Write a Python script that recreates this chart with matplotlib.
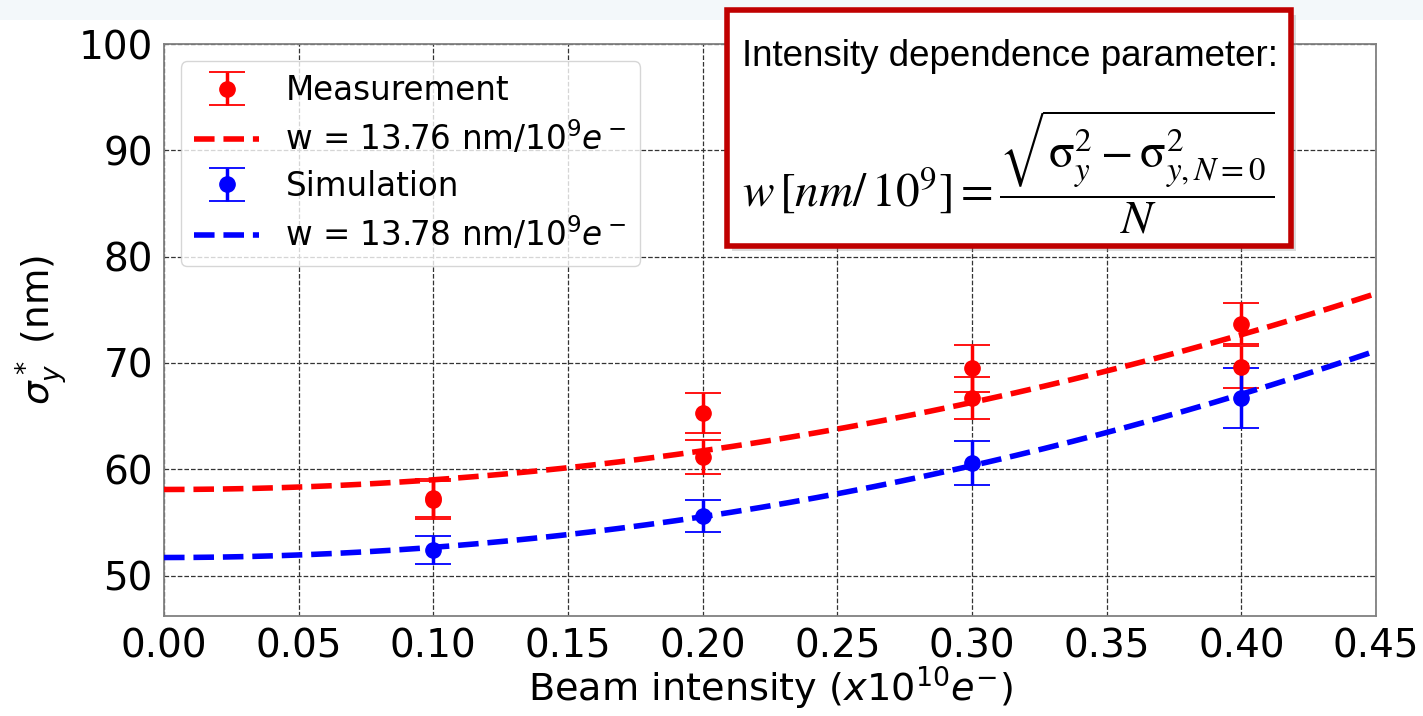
import numpy as np
import matplotlib.pyplot as plt
from matplotlib.patches import Rectangle

# measured beam size at IP (red) and simulation (blue)
meas_x = [0.1, 0.1, 0.2, 0.2, 0.3, 0.3, 0.4, 0.4]
meas_y = [57.3, 57.1, 65.3, 61.2, 69.5, 66.7, 73.7, 69.6]
meas_err = [1.8, 1.8, 1.9, 1.6, 2.2, 2.0, 1.95, 2.0]

sim_x = [0.1, 0.2, 0.3, 0.4]
sim_y = [52.4, 55.6, 60.6, 66.7]
sim_err = [1.3, 1.5, 2.1, 2.8]

# fit curves: sigma0 + a * x^2
meas_fit = (58.1, 91.0)
sim_fit = (51.7, 96.0)
meas_label = r'w = 13.76 nm/10$^9e^-$'
sim_label = r'w = 13.78 nm/10$^9e^-$'

xticks = [0.00, 0.05, 0.10, 0.15, 0.20, 0.25, 0.30, 0.35, 0.40, 0.45]
yticks = [50, 60, 70, 80, 90, 100]

W, H = 1423, 716
fig = plt.figure(figsize=(W / 100, H / 100), dpi=100)
fig.patch.set_facecolor('white')
# pale slide band at the top
fig.add_artist(Rectangle((0, 1 - 20 / H), 1, 20 / H, transform=fig.transFigure,
                         facecolor='#f3f8fa', edgecolor='none', zorder=0))

ax = fig.add_axes([164 / W, 1 - 616 / H, (1376 - 164) / W, (616 - 44) / H])

xx = np.linspace(0, 0.45, 300)
eb_kw = dict(fmt='o', markersize=11, elinewidth=2.5, capsize=13, capthick=1.3)
h1 = ax.errorbar(meas_x, meas_y, yerr=meas_err, color='red', label='Measurement', zorder=3, **eb_kw)
h2, = ax.plot(xx, meas_fit[0] + meas_fit[1] * xx ** 2, '--', color='red', lw=4, label=meas_label, zorder=4)
h3 = ax.errorbar(sim_x, sim_y, yerr=sim_err, color='blue', label='Simulation', zorder=3, **eb_kw)
h4, = ax.plot(xx, sim_fit[0] + sim_fit[1] * xx ** 2, '--', color='blue', lw=4, label=sim_label, zorder=4)

ax.set_xlim(0, 0.45)
ax.set_ylim(46.2, 100)
ax.set_xticks(xticks)
ax.set_yticks(yticks)
ax.tick_params(labelsize=28, length=0, pad=8)
ax.grid(True, color='#333333', linestyle='--', linewidth=0.9)
for s in ax.spines.values():
    s.set_color('#808080')
    s.set_linewidth(1.3)

ax.set_xlabel(r'Beam intensity ($x10^{10}e^{-}$)', fontsize=27.5, labelpad=0)
ax.set_ylabel(r'$\sigma_y^*$ (nm)', fontsize=27, labelpad=6)

ax.legend([h1, h2, h3, h4], ['Measurement', meas_label, 'Simulation', sim_label],
          loc='upper left', bbox_to_anchor=(0.014, 0.970), borderaxespad=0,
          fontsize=23.5, framealpha=0.8, labelspacing=0.38)

# boxed formula pasted over the plot
bx0, by0, bx1, by1 = 727, 10, 1291, 246
fig.add_artist(Rectangle(((bx0 + 5) / W, 1 - (by1 + 5) / H), (bx1 - bx0) / W, (by1 - by0) / H,
                         transform=fig.transFigure, facecolor='#999999', edgecolor='none',
                         alpha=0.35, zorder=9))
fig.add_artist(Rectangle((bx0 / W, 1 - by1 / H), (bx1 - bx0) / W, (by1 - by0) / H,
                         transform=fig.transFigure, facecolor='white', edgecolor='#c00000',
                         linewidth=4, zorder=10))
fig.text(742 / W, 1 - 57 / H, 'Intensity dependence parameter:',
         family=['Liberation Sans Narrow', 'Liberation Sans'], fontsize=26.5,
         ha='left', va='center', zorder=11)
fig.text(742 / W, 1 - 172 / H,
         r'$w\,[nm/\,10^9] = \dfrac{\sqrt{\mathrm{\sigma}_y^2 - \mathrm{\sigma}_{y,N=0}^2}}{N}$',
         math_fontfamily='stix', fontsize=34, ha='left', va='center', zorder=11)

fig.savefig('out.png', dpi=100)
